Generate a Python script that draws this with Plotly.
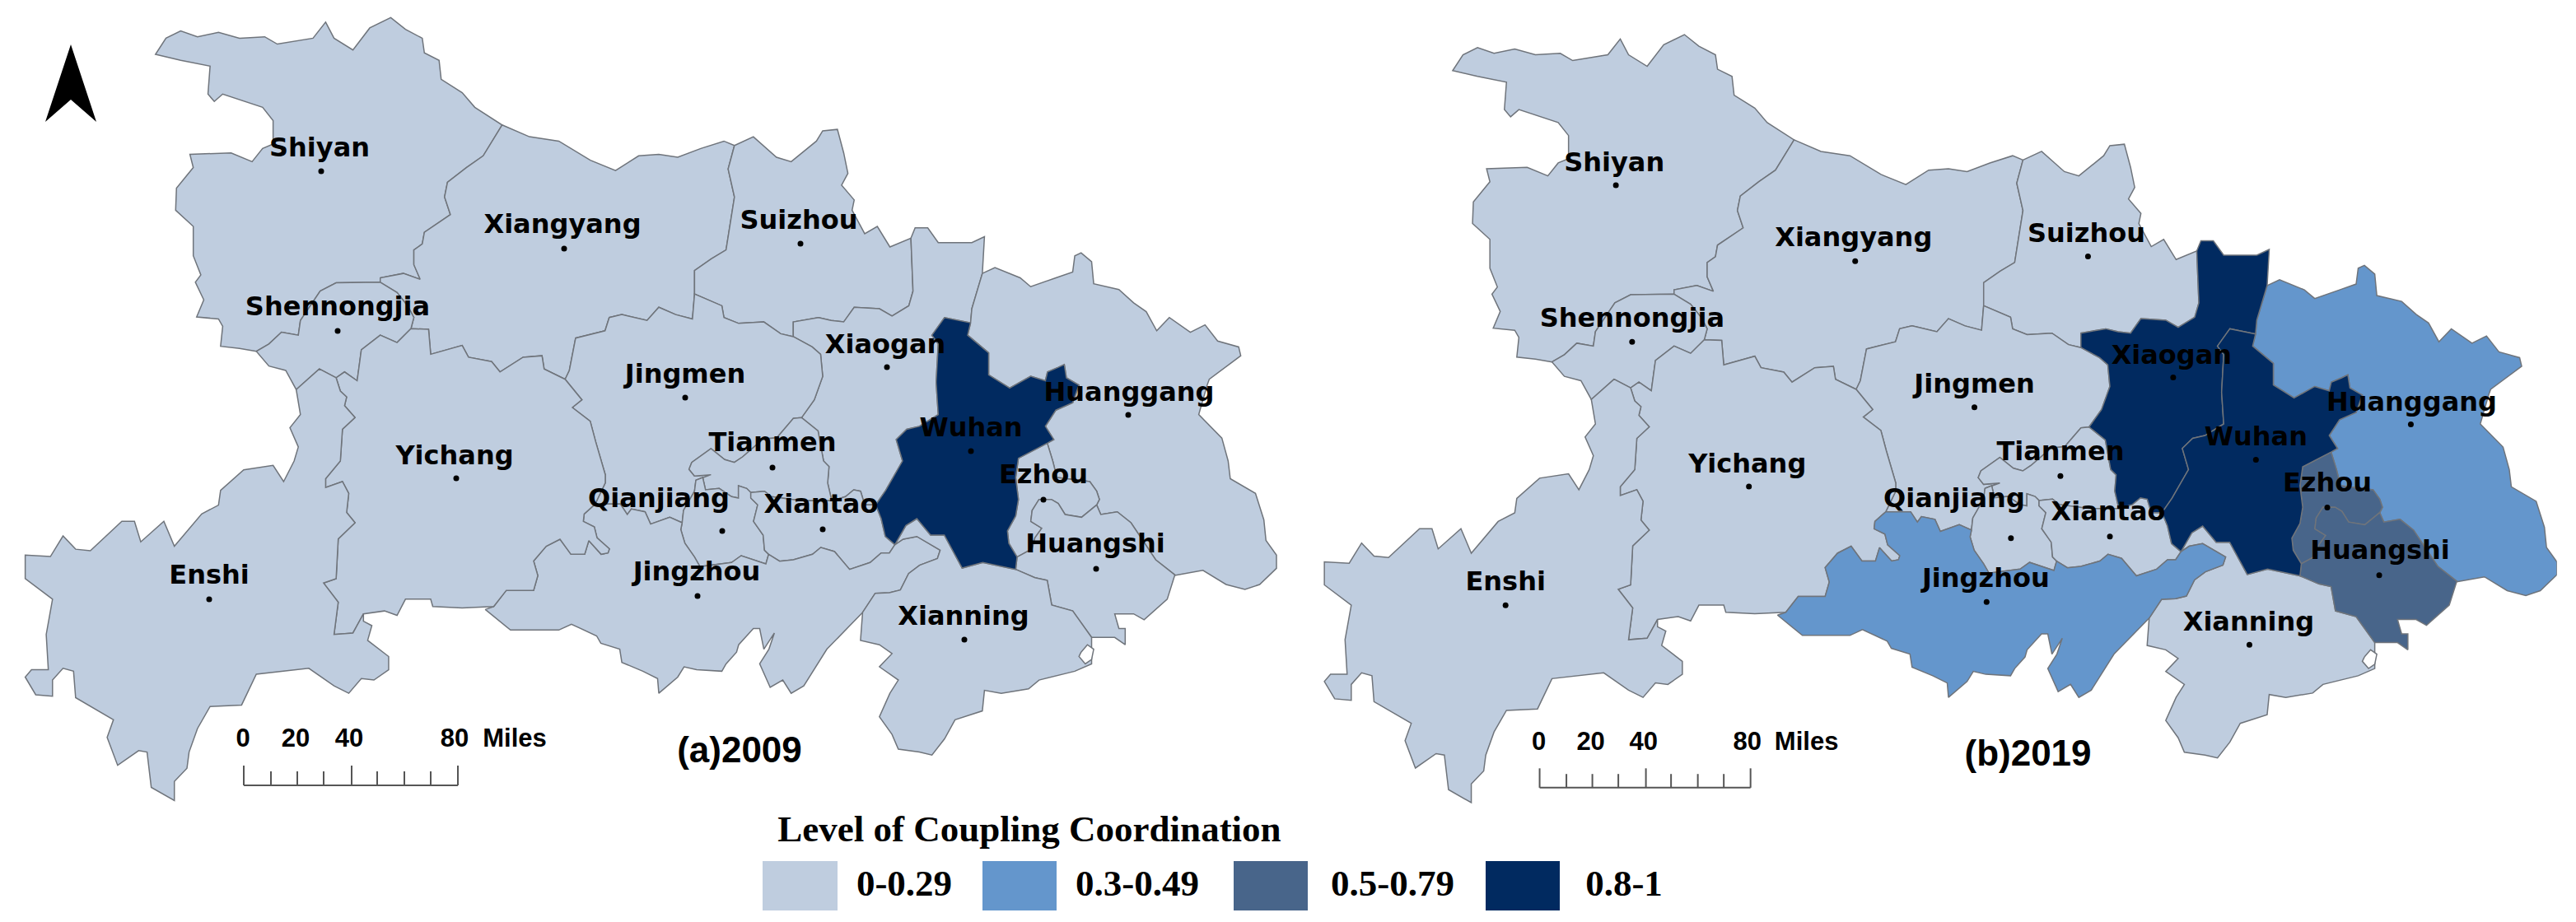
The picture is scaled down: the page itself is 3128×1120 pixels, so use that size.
import plotly.graph_objects as go

SHEETS = {"A": (0, 0, 1.96, 2.8), "B": (800, 0, 1.96, 2.8), "C": (0, 560, 1.96, 2.8),
          "D": (800, 560, 1.96, 2.8), "E": (680, 480, 3, 3), "F": (1080, 480, 3, 3)}


def sh(name, pts):
    x0, y0, sx, sy = SHEETS[name]
    return [(x0 + px / sx, y0 + py / sy) for px, py in pts]


def rev(a):
    return a[::-1]


shiyan_outer = sh("A", [(610,1195),(570,1185),(525,1178),(530,1110),(520,1085),(468,1078),(485,1020),(465,960),(478,935),(460,870),(460,770),(418,715),(420,640),(460,570),(452,525),(550,520),(600,550),(625,505),(650,490),(650,410),(625,365),(530,320),(510,345),(495,320),(500,225),(430,205),(370,185),(395,130),(430,105),(470,125),(520,110),(570,130),(630,125),(660,150),(745,130),(775,75),(795,130),(840,170),(880,95),(930,60),(965,100),(1005,130),(1010,180),(1045,205),(1050,270),(1100,315),(1130,365),(1195,425)])
shiyan_xiangyang = sh("A", [(1195,425),(1150,530),(1110,570),(1065,620),(1058,670),(1072,730),(1010,790),(1005,830),(985,850),(985,900),(1000,950),(960,930),(905,945),(905,960)])
shiyan_shennong = sh("A", [(905,960),(800,962),(762,990),(715,1090),(710,1140),(670,1130),(640,1170),(610,1195)])
shennong_xiangyang = sh("A", [(905,960),(945,995),(970,1040),(985,1080),(978,1118)])
shennong_yichang = sh("A", [(978,1118),(945,1165),(905,1140),(860,1190),(850,1295),(820,1265),(800,1285)])
shennong_enshi = sh("A", [(800,1285),(760,1255),(705,1325)])
shennong_outer = sh("A", [(705,1325),(680,1260),(640,1245),(610,1195)])
xiangyang_yichang = sh("A", [(978,1118),(1020,1120),(1025,1205),(1100,1175),(1115,1215),(1170,1230),(1190,1265),(1245,1215),(1290,1210),(1295,1255),(1345,1290)])
xiangyang_jingmen = sh("A", [(1345,1290),(1355,1260),(1370,1150),(1440,1125),(1450,1080),(1480,1070),(1540,1090)]) + sh("B", [(0,1045),(40,1070),(80,1085),(85,1000)])
xiangyang_north = sh("A", [(1195,425),(1260,465),(1330,480),(1405,545),(1465,580),(1520,530)]) + sh("B", [(0,525),(45,535),(100,505),(155,480),(180,495)])
xiangyang_suizhou = sh("B", [(180,495),(165,575),(180,670),(160,850),(125,880),(85,920),(85,1000)])
suizhou_north = sh("B", [(180,495),(225,465),(280,535),(315,550),(375,480),(390,445),(425,440),(440,520),(450,590),(435,630),(465,680),(460,715),(490,795),(520,770),(550,840),(600,810)])
suizhou_xiaogan = sh("B", [(600,810),(605,990),(595,1040),(555,1075),(525,1050),(465,1045),(440,1095),(410,1090),(380,1080),(320,1095),(320,1145)])
suizhou_jingmen = sh("B", [(85,1000),(150,1040),(155,1080),(190,1100),(250,1095),(290,1135),(320,1145)])
xiaogan_north = sh("B", [(600,810),(610,775),(640,775),(665,825),(745,825),(775,805),(770,930)])
xiaogan_huanggang = sh("B", [(770,930),(745,1050),(742,1098)])
jingmen_xiaogan = sh("B", [(320,1145),(365,1180),(385,1205),(390,1280),(370,1360)]) + sh("E", [(880,82)])
jingmen_tianmen = sh("E", [(880,82),(850,85),(820,120),(790,155),(740,160),(665,225),(635,245),(600,235),(550,195),(480,245),(470,270),(490,295),(550,290),(495,310)])
jingmen_qianjiang = sh("E", [(495,310),(490,350),(450,420),(445,465)])
jingmen_jingzhou = sh("E", [(128,397),(220,397),(245,435),(260,415),(310,425),(330,470),(400,445),(445,465)])
jingmen_yichang = sh("A", [(1345,1290),(1385,1360)]) + sh("E", [(45,45),(110,95),(130,170),(165,290),(165,320),(128,397)])
yichang_jingzhou = sh("E", [(128,397),(88,433),(85,460),(125,480),(135,520),(180,560),(175,575),(150,580),(105,530),(90,580),(40,580),(0,525)]) + sh("C", [(1300,290),(1270,340),(1280,390),(1270,440),(1205,440),(1175,495)])
yichang_outer = sh("C", [(1175,495),(1100,500),(1030,495),(1025,470),(965,470),(945,525),(915,510),(865,520)])
yichang_enshi = sh("A", [(800,1285),(810,1330),(825,1350),(820,1380),(845,1420),(815,1460)]) + sh("C", [(810,0),(775,60),(775,90),(815,70),(830,110),(825,175),(845,210),(805,265),(800,400),(770,415),(805,480),(795,590),(840,585),(865,520)])
enshi_outer = sh("C", [(865,520),(865,545),(885,560),(875,610),(925,665),(925,710),(890,745),(860,740),(830,790),(795,765),(735,705),(610,725),(575,830),(500,835),(470,910),(450,990),(445,1045),(415,1090),(415,1155),(360,1110),(350,990),(330,985),(280,1035),(255,940),(270,880),(180,805),(175,715),(150,705),(125,745),(125,800),(85,795),(60,735),(75,710),(115,710),(110,590),(125,470),(60,400),(60,320),(120,325),(150,255),(180,300),(215,305),(290,205),(320,205),(335,275),(390,205),(415,290),(480,180),(520,150),(525,100),(580,30),(650,15),(675,70),(700,0)]) + sh("A", [(710,1520),(690,1455),(715,1410),(705,1325)])
jingzhou_outer = sh("C", [(1175,495),(1155,505),(1215,575),(1270,575),(1330,575),(1360,555),(1420,595),(1430,620),(1475,640),(1480,685),(1530,715),(1565,740)]) + sh("D", [(0,790),(45,735),(60,700),(90,710),(150,715),(160,690),(185,650),(190,625),(225,570),(240,570),(250,640),(275,585),(262,640),(240,690),(265,770),(295,745),(315,790),(345,765),(400,640),(485,515)])
jingzhou_qianjiang_w = sh("E", [(445,465),(440,490),(455,540),(490,590),(510,625)])
jingzhou_qianjiang_s = sh("E", [(510,625),(625,610),(660,585),(750,615),(760,580)])
qianjiang_xiantao = sh("E", [(760,580),(745,565),(740,510),(705,460),(720,400),(695,375),(695,355)])
qianjiang_tianmen = sh("E", [(495,310),(520,300),(530,345),(580,340),(625,370),(650,375),(650,330),(680,340),(695,355)])
tianmen_xiantao = sh("E", [(695,355),(745,350),(770,370),(880,385),(990,385)])
tianmen_xiaogan = sh("E", [(880,82),(940,130),(960,240),(980,260),(975,320),(990,385)])
xiantao_xiaogan = sh("E", [(990,385),(1040,370),(1070,345),(1095,350),(1110,400),(1150,400)])
xiantao_jingzhou = sh("E", [(760,580),(800,605),(850,600),(920,580),(950,555),(1000,570),(1055,635),(1130,610),(1170,575),(1200,575)]) + sh("F", [(20,545)])
xiantao_wuhan = sh("E", [(1150,400),(1170,450),(1185,515)]) + sh("F", [(20,545)])
jingzhou_xianning = sh("F", [(20,545),(50,525),(100,515),(185,565),(175,595),(110,620),(70,650),(40,710),(0,720)]) + sh("D", [(515,450),(485,515)])
wuhan_xianning = sh("F", [(20,545),(60,475),(100,450),(150,510),(200,510),(265,630),(340,610),(460,635)])
wuhan_huangshi = sh("F", [(460,635),(465,590)])
wuhan_ezhou = sh("F", [(465,590),(435,540),(430,495),(460,440),(470,380),(460,300),(470,230),(520,205),(575,175)])
wuhan_huanggang = sh("B", [(742,1098),(735,1140),(785,1200),(785,1275),(835,1320),(885,1280),(920,1295),(925,1265),(950,1250),(965,1240),(970,1285),(1000,1310),(985,1370),(945,1395),(920,1450),(940,1495)]) + sh("F", [(575,175)])
wuhan_xiaogan = sh("B", [(742,1098),(680,1080),(650,1140),(665,1170),(660,1300),(665,1410),(620,1450),(590,1460),(565,1495),(580,1568)]) + sh("D", [(540,100)]) + sh("E", [(1150,400)])
ezhou_huanggang = sh("F", [(575,175),(595,240),(610,300),(730,315),(755,350),(765,380),(755,400)])
ezhou_huangshi = sh("F", [(755,400),(700,445),(640,435),(615,395),(590,380),(545,380),(520,420),(515,460),(555,485),(530,520),(520,560),(465,590)])
huangshi_huanggang = sh("F", [(755,400),(770,435),(830,425),(880,465),(910,510),(970,600),(1040,655)])
huangshi_xianning = sh("F", [(460,635),(530,665),(575,675)]) + sh("D", [(935,490),(985,510),(1030,600)])
huangshi_outer = sh("D", [(1030,600),(1085,600),(1110,625),(1110,570),(1095,570),(1085,520),(1130,520),(1155,540),(1210,470)]) + sh("F", [(1040,655)])
huanggang_outer = sh("B", [(770,930),(800,910),(860,945),(885,975),(945,945),(985,925),(990,870),(1005,860),(1030,890),(1035,965),(1095,985),(1130,1030),(1160,1060),(1185,1125),(1215,1080),(1265,1130),(1300,1105),(1330,1160),(1380,1180),(1385,1210),(1310,1290),(1305,1310),(1285,1410),(1340,1490)]) + sh("D", [(1355,0),(1360,60),(1420,110),(1440,200),(1445,270),(1470,320),(1470,365),(1430,420),(1395,437),(1350,420),(1295,372),(1225,390)]) + sh("F", [(1040,655)])
xianning_outer = sh("D", [(1030,600),(1030,690),(990,715),(950,730),(905,745),(880,775),(815,790),(775,780),(770,850),(705,880),(680,945),(650,1000),(620,990),(570,980),(555,930),(525,870),(550,790),(570,745),(525,700),(555,655),(525,625),(480,610),(485,515)])
lake = sh("D", [(1005,650),(1020,625),(1035,640),(1030,675),(1015,690),(1000,665)])

REGION_SHAPES = {
    "Shiyan": shiyan_outer + shiyan_xiangyang + shiyan_shennong,
    "Shennongjia": shiyan_shennong + rev(shennong_outer) + rev(shennong_enshi) + rev(shennong_yichang) + rev(shennong_xiangyang),
    "Xiangyang": xiangyang_north + xiangyang_suizhou + rev(xiangyang_jingmen) + rev(xiangyang_yichang) + rev(shennong_xiangyang) + rev(shiyan_xiangyang),
    "Suizhou": suizhou_north + suizhou_xiaogan + rev(suizhou_jingmen) + rev(xiangyang_suizhou),
    "Xiaogan": xiaogan_north + xiaogan_huanggang + wuhan_xiaogan + rev(xiantao_xiaogan) + rev(tianmen_xiaogan) + rev(jingmen_xiaogan) + rev(suizhou_xiaogan),
    "Jingmen": xiangyang_jingmen + suizhou_jingmen + jingmen_xiaogan + jingmen_tianmen + jingmen_qianjiang + rev(jingmen_jingzhou) + rev(jingmen_yichang),
    "Tianmen": rev(jingmen_tianmen) + tianmen_xiaogan + rev(tianmen_xiantao) + rev(qianjiang_tianmen),
    "Qianjiang": qianjiang_tianmen + rev(qianjiang_xiantao) + rev(jingzhou_qianjiang_s) + rev(jingzhou_qianjiang_w) + rev(jingmen_qianjiang),
    "Xiantao": tianmen_xiantao + xiantao_xiaogan + xiantao_wuhan + rev(xiantao_jingzhou) + qianjiang_xiantao,
    "Jingzhou": jingmen_jingzhou + jingzhou_qianjiang_w + jingzhou_qianjiang_s + xiantao_jingzhou + jingzhou_xianning + rev(jingzhou_outer) + rev(yichang_jingzhou),
    "Yichang": xiangyang_yichang + jingmen_yichang + yichang_jingzhou + yichang_outer + rev(yichang_enshi) + rev(shennong_yichang),
    "Enshi": yichang_enshi + enshi_outer + rev(shennong_enshi),
    "Wuhan": wuhan_huanggang + rev(wuhan_ezhou) + rev(wuhan_huangshi) + rev(wuhan_xianning) + rev(xiantao_wuhan) + rev(wuhan_xiaogan),
    "Ezhou": wuhan_ezhou + ezhou_huanggang + ezhou_huangshi,
    "Huanggang": huanggang_outer + rev(huangshi_huanggang) + rev(ezhou_huanggang) + rev(wuhan_huanggang) + rev(xiaogan_huanggang),
    "Huangshi": huangshi_huanggang + rev(huangshi_outer) + rev(huangshi_xianning) + wuhan_huangshi + rev(ezhou_huangshi),
    "Xianning": wuhan_xianning + huangshi_xianning + xianning_outer + rev(jingzhou_xianning),
}

# ---- values ----
CITIES = ["Shiyan", "Xiangyang", "Shennongjia", "Suizhou", "Xiaogan", "Jingmen", "Huanggang", "Wuhan", "Tianmen",
          "Qianjiang", "Xiantao", "Jingzhou", "Ezhou", "Huangshi", "Xianning", "Yichang", "Enshi"]
LEVEL_2009 = [0, 0, 0, 0, 0, 0, 0, 3, 0, 0, 0, 0, 0, 0, 0, 0, 0]
LEVEL_2019 = [0, 0, 0, 0, 3, 0, 1, 3, 0, 0, 0, 1, 2, 2, 0, 0, 0]
CITY_X = [390, 685, 410, 972, 1077, 832, 1370, 1179, 938, 877, 999, 847, 1267, 1331, 1171, 554, 254]
CITY_Y = [208, 302, 402, 296, 446, 483, 504, 548, 568, 645, 643, 724, 607, 691, 777, 581, 728]
LABEL_X = [388, 683, 410, 970, 1075, 832, 1371, 1179, 938, 800, 997, 846, 1267, 1330, 1170, 552, 254]
LABEL_Y_2009 = [182, 275, 375, 270, 421, 457, 479, 522, 540, 608, 615, 697, 579, 663, 751, 556, 701]
LABEL_Y_2019 = [182, 275, 375, 270, 421, 457, 479, 522, 540, 598, 615, 697, 579, 663, 751, 556, 701]
LABEL_X_2019 = [388, 683, 410, 970, 1075, 832, 1371, 1179, 938, 807, 997, 846, 1267, 1332, 1170, 552, 254]

LEGEND_LABELS = ["0-0.29", "0.3-0.49", "0.5-0.79", "0.8-1"]
LEGEND_TITLE = "Level of Coupling Coordination"
COLORS = ["#BFCDDF", "#6496CC", "#48658A", "#012A60"]
PANEL_TITLES = ["(a)2009", "(b)2019"]
SCALE_LABELS = ["0", "20", "40", "80", "Miles"]
SCALE_LABEL_X = [295, 359, 424, 552, 625]
SCALE_TICK_X = [296, 329, 361, 393, 427, 458, 491, 523, 556]
SCALE_TICK_TOP = [930, 937, 937, 937, 930, 937, 937, 937, 930]

W, H = 3128, 1120
# position of the 2019 map on the page, relative to the 2009 map's units
RIGHT_SX, RIGHT_DX, RIGHT_SY, RIGHT_DY = 0.985, 1578, 0.981, 21
MAP_W = 1550

fig = go.Figure()
LINE = "#6f747b"
AXES = [("x", "y"), ("x2", "y2")]
LABELS = [(LABEL_X, LABEL_Y_2009), (LABEL_X_2019, LABEL_Y_2019)]

for panel, levels in enumerate([LEVEL_2009, LEVEL_2019]):
    xa, ya = AXES[panel]
    order = sorted(range(len(CITIES)), key=lambda i: levels[i])
    for i in order:
        pts = REGION_SHAPES[CITIES[i]]
        fig.add_trace(go.Scatter(
            x=[p[0] for p in pts] + [pts[0][0]], y=[p[1] for p in pts] + [pts[0][1]],
            mode="lines", fill="toself", fillcolor=COLORS[levels[i]],
            line=dict(color=LINE, width=1.5), name=CITIES[i], xaxis=xa, yaxis=ya,
            showlegend=False, hoverinfo="skip"))
    fig.add_trace(go.Scatter(
        x=[p[0] for p in lake] + [lake[0][0]], y=[p[1] for p in lake] + [lake[0][1]],
        mode="lines", fill="toself", fillcolor="white", line=dict(color=LINE, width=1.5),
        xaxis=xa, yaxis=ya, showlegend=False, hoverinfo="skip"))
    # city points
    fig.add_trace(go.Scatter(
        x=CITY_X, y=CITY_Y, mode="markers", marker=dict(color="black", size=7),
        xaxis=xa, yaxis=ya, showlegend=False, hoverinfo="skip"))
    # city labels
    fig.add_trace(go.Scatter(
        x=LABELS[panel][0], y=LABELS[panel][1], mode="text", text=CITIES, textposition="middle center",
        textfont=dict(family="DejaVu Sans", size=32, color="black", weight=700),
        xaxis=xa, yaxis=ya, showlegend=False, hoverinfo="skip"))
    # scale bar
    sx, sy = [SCALE_TICK_X[0], SCALE_TICK_X[-1], None], [954, 954, None]
    for tx, ty in zip(SCALE_TICK_X, SCALE_TICK_TOP):
        sx += [tx, tx, None]
        sy += [954, ty, None]
    fig.add_trace(go.Scatter(x=sx, y=sy, mode="lines", line=dict(color="#555555", width=2),
                             xaxis=xa, yaxis=ya, showlegend=False, hoverinfo="skip"))
    fig.add_trace(go.Scatter(
        x=SCALE_LABEL_X, y=[899] * len(SCALE_LABELS), mode="text", text=SCALE_LABELS,
        textposition="middle center",
        textfont=dict(family="Liberation Sans", size=31, color="black", weight=700),
        xaxis=xa, yaxis=ya, showlegend=False, hoverinfo="skip"))
    # panel title
    fig.add_trace(go.Scatter(
        x=[898], y=[915], mode="text", text=[PANEL_TITLES[panel]], textposition="middle center",
        textfont=dict(family="Liberation Sans", size=44, color="black", weight=700),
        xaxis=xa, yaxis=ya, showlegend=False, hoverinfo="skip"))

# north arrow
fig.add_shape(type="path", path="M 86 54 L 117 148 L 86 121 L 55 148 Z", xref="x", yref="y",
              fillcolor="black", line=dict(width=0))

# legend
SW_X0 = [926, 1193, 1498, 1804]
SW_X1 = [1017, 1283, 1588, 1894]
for x0, x1, c in zip(SW_X0, SW_X1, COLORS):
    fig.add_shape(type="rect", x0=x0, x1=x1, y0=1046, y1=1106, xref="x", yref="y", fillcolor=c, line=dict(width=0))
fig.add_trace(go.Scatter(
    x=[1098, 1381, 1691, 1972], y=[1077] * 4, mode="text", text=LEGEND_LABELS, textposition="middle center",
    textfont=dict(family="Liberation Serif", size=45, color="black", weight=700),
    showlegend=False, hoverinfo="skip"))
fig.add_trace(go.Scatter(
    x=[1250], y=[1011], mode="text", text=[LEGEND_TITLE], textposition="middle center",
    textfont=dict(family="Liberation Serif", size=45, color="black", weight=700),
    showlegend=False, hoverinfo="skip"))

hidden = dict(visible=False, showgrid=False, zeroline=False, fixedrange=True)
fig.update_layout(
    width=W, height=H, margin=dict(l=0, r=0, t=0, b=0), paper_bgcolor="white", plot_bgcolor="rgba(0,0,0,0)",
    showlegend=False,
    xaxis=dict(domain=[0, 1], range=[0, W], **hidden),
    yaxis=dict(domain=[0, 1], range=[H, 0], **hidden),
    xaxis2=dict(domain=[RIGHT_DX / W, (RIGHT_DX + RIGHT_SX * MAP_W) / W], range=[0, MAP_W], anchor="y2", **hidden),
    yaxis2=dict(domain=[1 - (RIGHT_DY + RIGHT_SY * H) / H, 1 - RIGHT_DY / H], range=[H, 0], anchor="x2", **hidden),
)
fig.write_html("out.html", config={"displayModeBar": False}, post_script="document.body.style.margin='0';")
